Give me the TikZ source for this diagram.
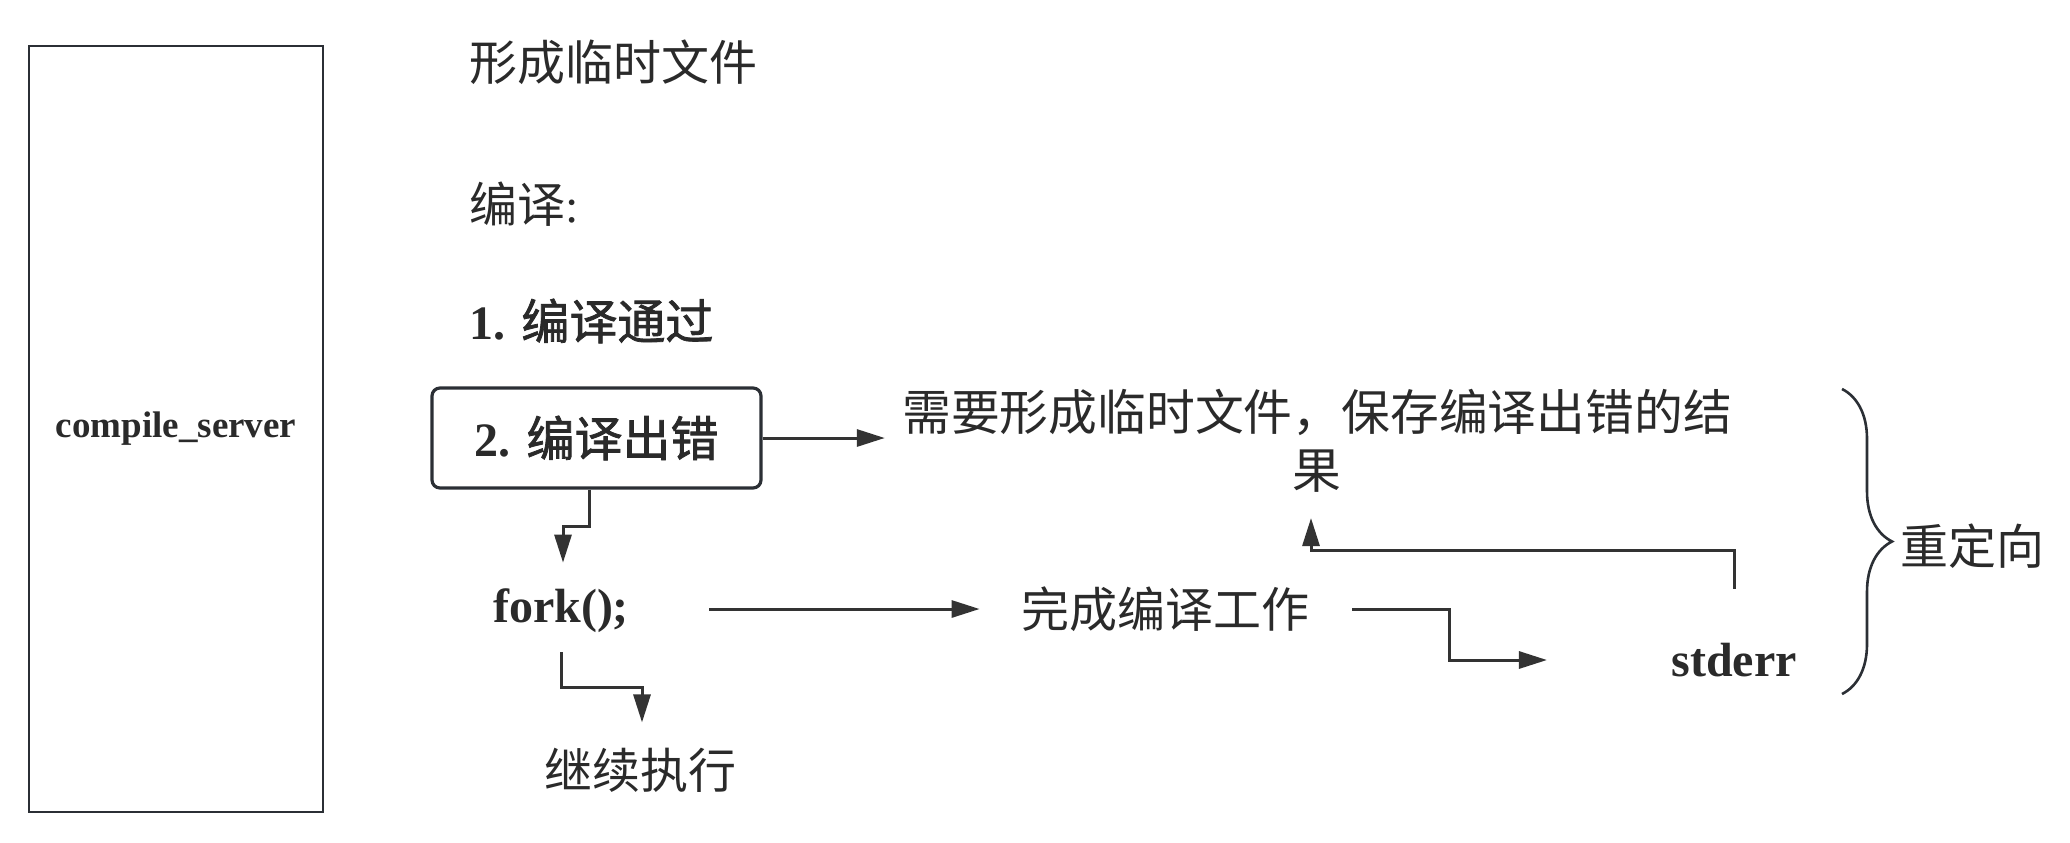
\documentclass[tikz,border=0pt]{standalone}
\usepackage{fontspec}
\setmainfont{Liberation Serif}
\newfontfamily\cjk{Noto Sans CJK SC}
\newfontfamily\cjkb[FakeBold=1.6]{Noto Sans CJK SC}
\usetikzlibrary{arrows.meta,calc,decorations.pathreplacing}
\definecolor{ink}{HTML}{2a2a2a}
\definecolor{linec}{HTML}{333333}
\definecolor{framec}{HTML}{2b2f35}
\tikzset{
 txt/.style={inner sep=0pt, text=ink, font=\fontsize{24pt}{29pt}\selectfont\cjk},
 btxt/.style={inner sep=0pt, text=ink, font=\fontsize{24pt}{29pt}\selectfont\bfseries},
 conn/.style={draw=linec, line width=1.5pt, -{Triangle[length=14pt,width=8.5pt]}},
 frame/.style={draw=framec, line width=1.4pt},
}
\begin{document}
\begin{tikzpicture}[x=0.5pt,y=-0.5pt]
\useasboundingbox (0,0) rectangle (2070,842);
\node[frame, minimum width=147pt, minimum height=383pt, inner sep=0pt, text=ink, font=\fontsize{18.5pt}{22pt}\selectfont\bfseries] (server) at (176,429) {compile\_server};
\node[txt, anchor=west] (t1) at (469,62) {形成临时文件};
\node[txt, anchor=west] (t2) at (469,204) {编译\rmfamily:};
\node[btxt, anchor=west] (t3) at (469,321) {1. {\cjkb\mdseries 编译通过}};
\node[btxt, frame, line width=1.6pt, rounded corners=4pt, minimum width=164.5pt, minimum height=50pt] (box) at (596.5,438) {2. {\cjkb\mdseries 编译出错}};
\node[txt, align=center, font=\fontsize{24.4pt}{29pt}\selectfont\cjk] (need) at (1317,441) {需要形成临时文件，保存编译出错的结\\果};
\node[btxt] (fork) at (561,611) {fork();};
\node[txt] (done) at (1165,609) {完成编译工作};
\node[btxt] (stderr) at (1734,660) {stderr};
\node[txt] (cont) at (640,770) {继续执行};
\node[txt] (redir) at (1972,546) {重定向};
\draw[draw=framec, line width=1.3pt, decorate, decoration={brace, amplitude=25pt}] (1842,389) -- (1842,694);
\draw[conn, shorten >=8.5pt] (box.east) -- (box.east -| need.west);
\draw[conn, shorten >=13pt] ([xshift=-3.75pt]box.south) -- ++(0,37) -| ([xshift=1pt]fork.north);
\draw[conn, shorten <=40pt, shorten >=20.5pt] (fork.east |- done.west) -- (done.west);
\draw[conn, shorten <=21.5pt, shorten >=62pt] (done.east) -- ++(140,0) |- (stderr.west);
\draw[conn, shorten <=27pt, shorten >=12.5pt] (stderr.north) -- ++(0,-92) -| ([xshift=-3pt]need.south);
\draw[conn, shorten <=9.5pt, shorten >=12.5pt] (fork.south) -- ++(0,54) -| ([xshift=1pt]cont.north);
\end{tikzpicture}
\end{document}
